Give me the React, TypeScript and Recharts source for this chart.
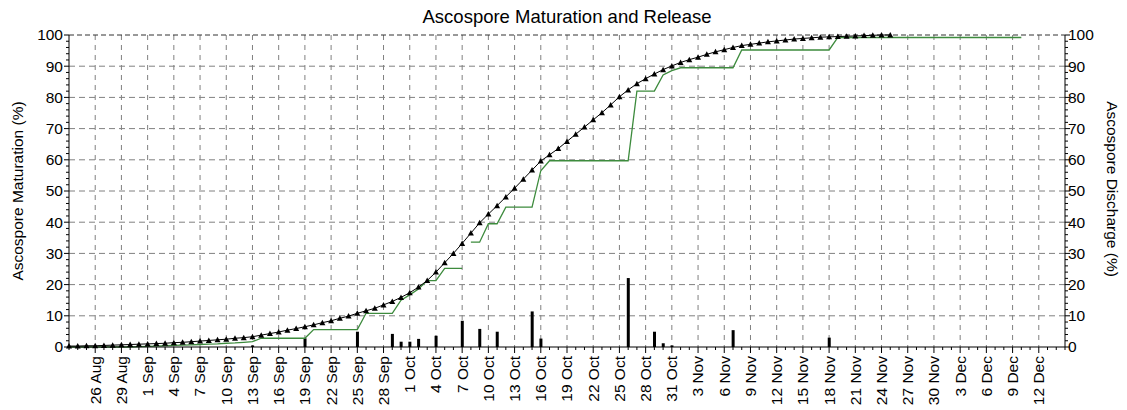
import React from 'react';
import { ComposedChart, Line, Bar, XAxis, YAxis, CartesianGrid, ReferenceLine } from 'recharts';

// day 0 = 23 Aug, one value per day
const maturation = [
  0.3, 0.3, 0.4, 0.4, 0.5, 0.6, 0.7, 0.8, 0.9, 1.0,
  1.1, 1.2, 1.4, 1.5, 1.7, 1.9, 2.1, 2.3, 2.5, 2.8,
  3.0, 3.3, 3.8, 4.3, 4.8, 5.4, 5.9, 6.5, 7.1, 7.8,
  8.4, 9.2, 9.9, 10.8, 11.6, 12.4, 13.5, 14.6, 15.9, 17.4,
  19.2, 21.3, 24.0, 27.0, 30.0, 33.2, 36.5, 39.8, 42.6, 45.3,
  48.1, 50.9, 53.8, 56.7, 59.6, 61.6, 63.6, 65.9, 68.2, 70.5,
  72.8, 75.1, 77.6, 80.2, 82.4, 84.4, 86.0, 87.5, 88.9, 90.1,
  91.2, 92.1, 92.9, 93.8, 94.6, 95.3, 96.0, 96.6, 97.0, 97.4,
  97.8, 98.1, 98.4, 98.7, 98.9, 99.1, 99.3, 99.4, 99.5, 99.6,
  99.7, 99.8, 99.9, 100, 100,
];

// cumulative discharge, days 0..45
const dischargeEarly = [
  0, 0, 0, 0, 0, 0, 0, 0, 0.1, 0.2,
  0.3, 0.4, 0.5, 0.6, 0.7, 0.8, 0.9, 1.0, 1.2, 1.3,
  1.5, 1.7, 2.8, 2.8, 2.8, 2.8, 2.8, 2.8, 5.6, 5.6,
  5.6, 5.6, 5.6, 5.6, 10.8, 10.8, 10.8, 10.8, 15.0, 16.7,
  18.6, 21.3, 21.3, 25.2, 25.2, 25.2,
];

// cumulative discharge, days 46..109
const LATE_START = 46;
const dischargeLate = [
  33.6, 33.6, 39.5, 39.5, 44.8, 44.8, 44.8, 44.8, 56.5, 59.7,
  59.7, 59.7, 59.7, 59.7, 59.7, 59.7, 59.7, 59.7, 59.7, 82.0,
  82.0, 82.0, 87.2, 88.6, 89.5, 89.5, 89.5, 89.5, 89.5, 89.5,
  89.5, 95.2, 95.2, 95.2, 95.2, 95.2, 95.2, 95.2, 95.2, 95.2,
  95.2, 95.2, 99.2, 99.2, 99.2, 99.2, 99.2, 99.2, 99.2, 99.2,
  99.2, 99.2, 99.2, 99.2, 99.2, 99.2, 99.2, 99.2, 99.2, 99.2,
  99.2, 99.2, 99.2, 99.2,
];

// daily discharge bars
const barDays = [21, 27, 33, 37, 38, 39, 40, 42, 45, 47, 49, 53, 54, 64, 67, 68, 69, 76, 87];
const barValues = [0.5, 2.8, 4.9, 4.2, 1.7, 1.7, 2.6, 3.6, 8.4, 5.8, 4.9, 11.4, 2.7, 22.1, 4.9, 1.2, 0.5, 5.4, 3.0];

const tickLabels = [
  '26 Aug', '29 Aug', '1 Sep', '4 Sep', '7 Sep', '10 Sep', '13 Sep', '16 Sep', '19 Sep', '22 Sep',
  '25 Sep', '28 Sep', '1 Oct', '4 Oct', '7 Oct', '10 Oct', '13 Oct', '16 Oct', '19 Oct', '22 Oct',
  '25 Oct', '28 Oct', '31 Oct', '3 Nov', '6 Nov', '9 Nov', '12 Nov', '15 Nov', '18 Nov', '21 Nov',
  '24 Nov', '27 Nov', '30 Nov', '3 Dec', '6 Dec', '9 Dec', '12 Dec',
];
const tickDays = tickLabels.map((_, i) => 3 + i * 3);

const LAST_DAY = 114;
const allDays = Array.from({ length: LAST_DAY + 1 }, (_, d) => d);
const yTicks = Array.from({ length: 51 }, (_, i) => i * 2);
const gridY = [10, 20, 30, 40, 50, 60, 70, 80, 90];

const rows = allDays.map(d => ({
  day: d,
  mat: maturation[d],
  early: dischargeEarly[d],
  late: d >= LATE_START ? dischargeLate[d - LATE_START] : undefined,
  bar: barValues[barDays.indexOf(d)],
}));

const FONT = '"Liberation Sans", Arial, sans-serif';
const FS = 15.5;

const XTick = (props: any) => {
  const { x, y, payload } = props;
  const idx = tickDays.indexOf(payload.value);
  const major = idx >= 0;
  return (
    <g>
      <line x1={x} x2={x} y1={y} y2={y + (major ? 6 : 3)} stroke="#000" />
      {major && (
        <text x={x} y={y + 9} transform={`rotate(-90 ${x} ${y + 9})`} textAnchor="end" dy="0.35em"
          fontSize={FS} fontFamily={FONT} fill="#000">{tickLabels[idx]}</text>
      )}
    </g>
  );
};

const LeftTick = (props: any) => {
  const { x, y, payload } = props;
  const major = payload.value % 10 === 0;
  return (
    <g>
      <line x1={x - (major ? 5 : 3)} x2={x} y1={y} y2={y} stroke="#000" />
      {major && <text x={x - 6} y={y} textAnchor="end" dy="0.35em" fontSize={FS} fontFamily={FONT} fill="#000">{payload.value}</text>}
    </g>
  );
};

const RightTick = (props: any) => {
  const { x, y, payload } = props;
  const major = payload.value % 10 === 0;
  return (
    <g>
      <line x1={x} x2={x + (major ? 5 : 3)} y1={y} y2={y} stroke="#000" />
      {major && <text x={x + 3} y={y} textAnchor="start" dy="0.35em" fontSize={FS} fontFamily={FONT} fill="#000">{payload.value}</text>}
    </g>
  );
};

const Triangle = (props: any) => {
  const { cx, cy, index } = props;
  if (cx == null || cy == null) return <g key={`t${index}`} />;
  return <path key={`t${index}`} d={`M${cx - 3},${cy + 2.5}L${cx + 3},${cy + 2.5}L${cx},${cy - 3}Z`} fill="#000" />;
};

export default function App() {
  return (
    <div style={{ position: 'absolute', left: 0, top: 0, width: 1127, height: 410, background: '#fff' }}>
      <ComposedChart width={1127} height={410} data={rows} margin={{ top: 35, right: 0, bottom: 0, left: 0 }}>
        <CartesianGrid yAxisId="left" horizontal={false} verticalValues={tickDays} stroke="#808080" strokeDasharray="5 5" />
        <CartesianGrid yAxisId="left" vertical={false} horizontalValues={gridY} stroke="#808080" strokeDasharray="6 4" />
        <XAxis dataKey="day" type="number" domain={[0, LAST_DAY]} ticks={allDays} interval={0}
          height={63} tickSize={0} tickMargin={0} tickLine={false} axisLine={{ stroke: '#000' }} tick={XTick} />
        <YAxis yAxisId="left" orientation="left" width={69} domain={[0, 100]} ticks={yTicks} interval={0}
          tickSize={0} tickMargin={0} tickLine={false} axisLine={{ stroke: '#000' }} tick={LeftTick} />
        <YAxis yAxisId="right" orientation="right" width={62} domain={[0, 100]} ticks={yTicks} interval={0}
          tickSize={0} tickMargin={0} tickLine={false} axisLine={{ stroke: '#000' }} tick={RightTick} />
        <ReferenceLine yAxisId="left" y={100} stroke="#333" strokeDasharray="5 3" />
        <Bar yAxisId="right" dataKey="bar" fill="#000" barSize={3} isAnimationActive={false} />
        <Line yAxisId="right" type="linear" dataKey="early" stroke="#3d8b3d" strokeWidth={1.3} dot={false} isAnimationActive={false} />
        <Line yAxisId="right" type="linear" dataKey="late" stroke="#3d8b3d" strokeWidth={1.3} dot={false} isAnimationActive={false} />
        <Line yAxisId="left" type="linear" dataKey="mat" stroke="#000" strokeWidth={1} dot={Triangle} isAnimationActive={false} />
      </ComposedChart>
      <svg width={1127} height={410} style={{ position: 'absolute', left: 0, top: 0, pointerEvents: 'none' }}>
        <text x={567} y={23} textAnchor="middle" fontSize={18.5} fontFamily={FONT} fill="#000">Ascospore Maturation and Release</text>
        <text x={23} y={191} transform="rotate(-90 23 191)" textAnchor="middle" fontSize={FS} fontFamily={FONT} fill="#000">Ascospore Maturation (%)</text>
        <text x={1107} y={189} transform="rotate(90 1107 189)" textAnchor="middle" fontSize={FS} fontFamily={FONT} fill="#000">Ascospore Discharge (%)</text>
      </svg>
    </div>
  );
}
